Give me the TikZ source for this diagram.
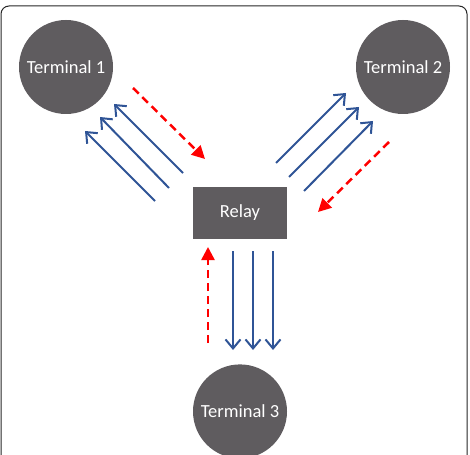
\documentclass[tikz,border=0pt]{standalone}
\usepackage{fontspec}
\setmainfont{Carlito}
\usetikzlibrary{positioning,arrows.meta}
\definecolor{termgray}{RGB}{95,92,95}
\definecolor{linkblue}{RGB}{47,84,150}
\definecolor{fbred}{RGB}{255,0,0}
\tikzset{
  terminal/.style={fill=termgray,circle,minimum size=94pt,inner sep=0pt,text=white,font=\fontsize{18.5}{21}\selectfont},
  relaybox/.style={fill=termgray,minimum width=94pt,minimum height=52pt,inner sep=0pt,text=white,font=\fontsize{18.5}{21}\selectfont},
  datalink/.style={linkblue,line width=2pt,-{Straight Barb[length=9pt,width=15pt]}},
  feedback/.style={fbred,line width=2.5pt,dash pattern=on 8pt off 5pt,-{Triangle[length=13pt,width=13pt]}}
}
\begin{document}
\begin{tikzpicture}[x=1pt,y=-1pt]
    \useasboundingbox (0,0) rectangle (470,454);
    \draw[rounded corners=8pt,line width=1pt,draw=black!85] (1,6) rectangle (467,490);

    % nodes
    \node[relaybox] (relay) at (240,213) {Relay};
    \node[terminal] (t1) at (66,67) {Terminal 1};
    \node[terminal] (t2) at (403,67) {Terminal 2};
    \node[terminal,below=125pt of relay] (t3) {Terminal 3};

    % arrow ends, relay to terminal 1
    \coordinate (a1s) at (155,201); \coordinate (a1e) at (85,131);
    \coordinate (a2s) at (169,188); \coordinate (a2e) at (100,117);
    \coordinate (a3s) at (183,173); \coordinate (a3e) at (114,104);
    \coordinate (f1s) at (133,88);  \coordinate (f1e) at (205,159);
    % relay to terminal 2
    \coordinate (b1s) at (276,163); \coordinate (b1e) at (346,93);
    \coordinate (b2s) at (289,177); \coordinate (b2e) at (359,107);
    \coordinate (b3s) at (304,191); \coordinate (b3e) at (373,121);
    \coordinate (f2s) at (389,142); \coordinate (f2e) at (318,212);
    % relay to terminal 3
    \coordinate (c1s) at (233,251); \coordinate (c1e) at (233,350);
    \coordinate (c2s) at (253,251); \coordinate (c2e) at (253,350);
    \coordinate (c3s) at (273,251); \coordinate (c3e) at (273,350);
    \coordinate (f3s) at (208,343); \coordinate (f3e) at (208,247);

    \draw[datalink] (a1s) -- (a1e);
    \draw[datalink] (a2s) -- (a2e);
    \draw[datalink] (a3s) -- (a3e);
    \draw[feedback] (f1s) -- (f1e);

    \draw[datalink] (b1s) -- (b1e);
    \draw[datalink] (b2s) -- (b2e);
    \draw[datalink] (b3s) -- (b3e);
    \draw[feedback] (f2s) -- (f2e);

    \draw[datalink] (c1s) -- (c1e);
    \draw[datalink] (c2s) -- (c2e);
    \draw[datalink] (c3s) -- (c3e);
    \draw[feedback] (f3s) -- (f3e);
\end{tikzpicture}
\end{document}
